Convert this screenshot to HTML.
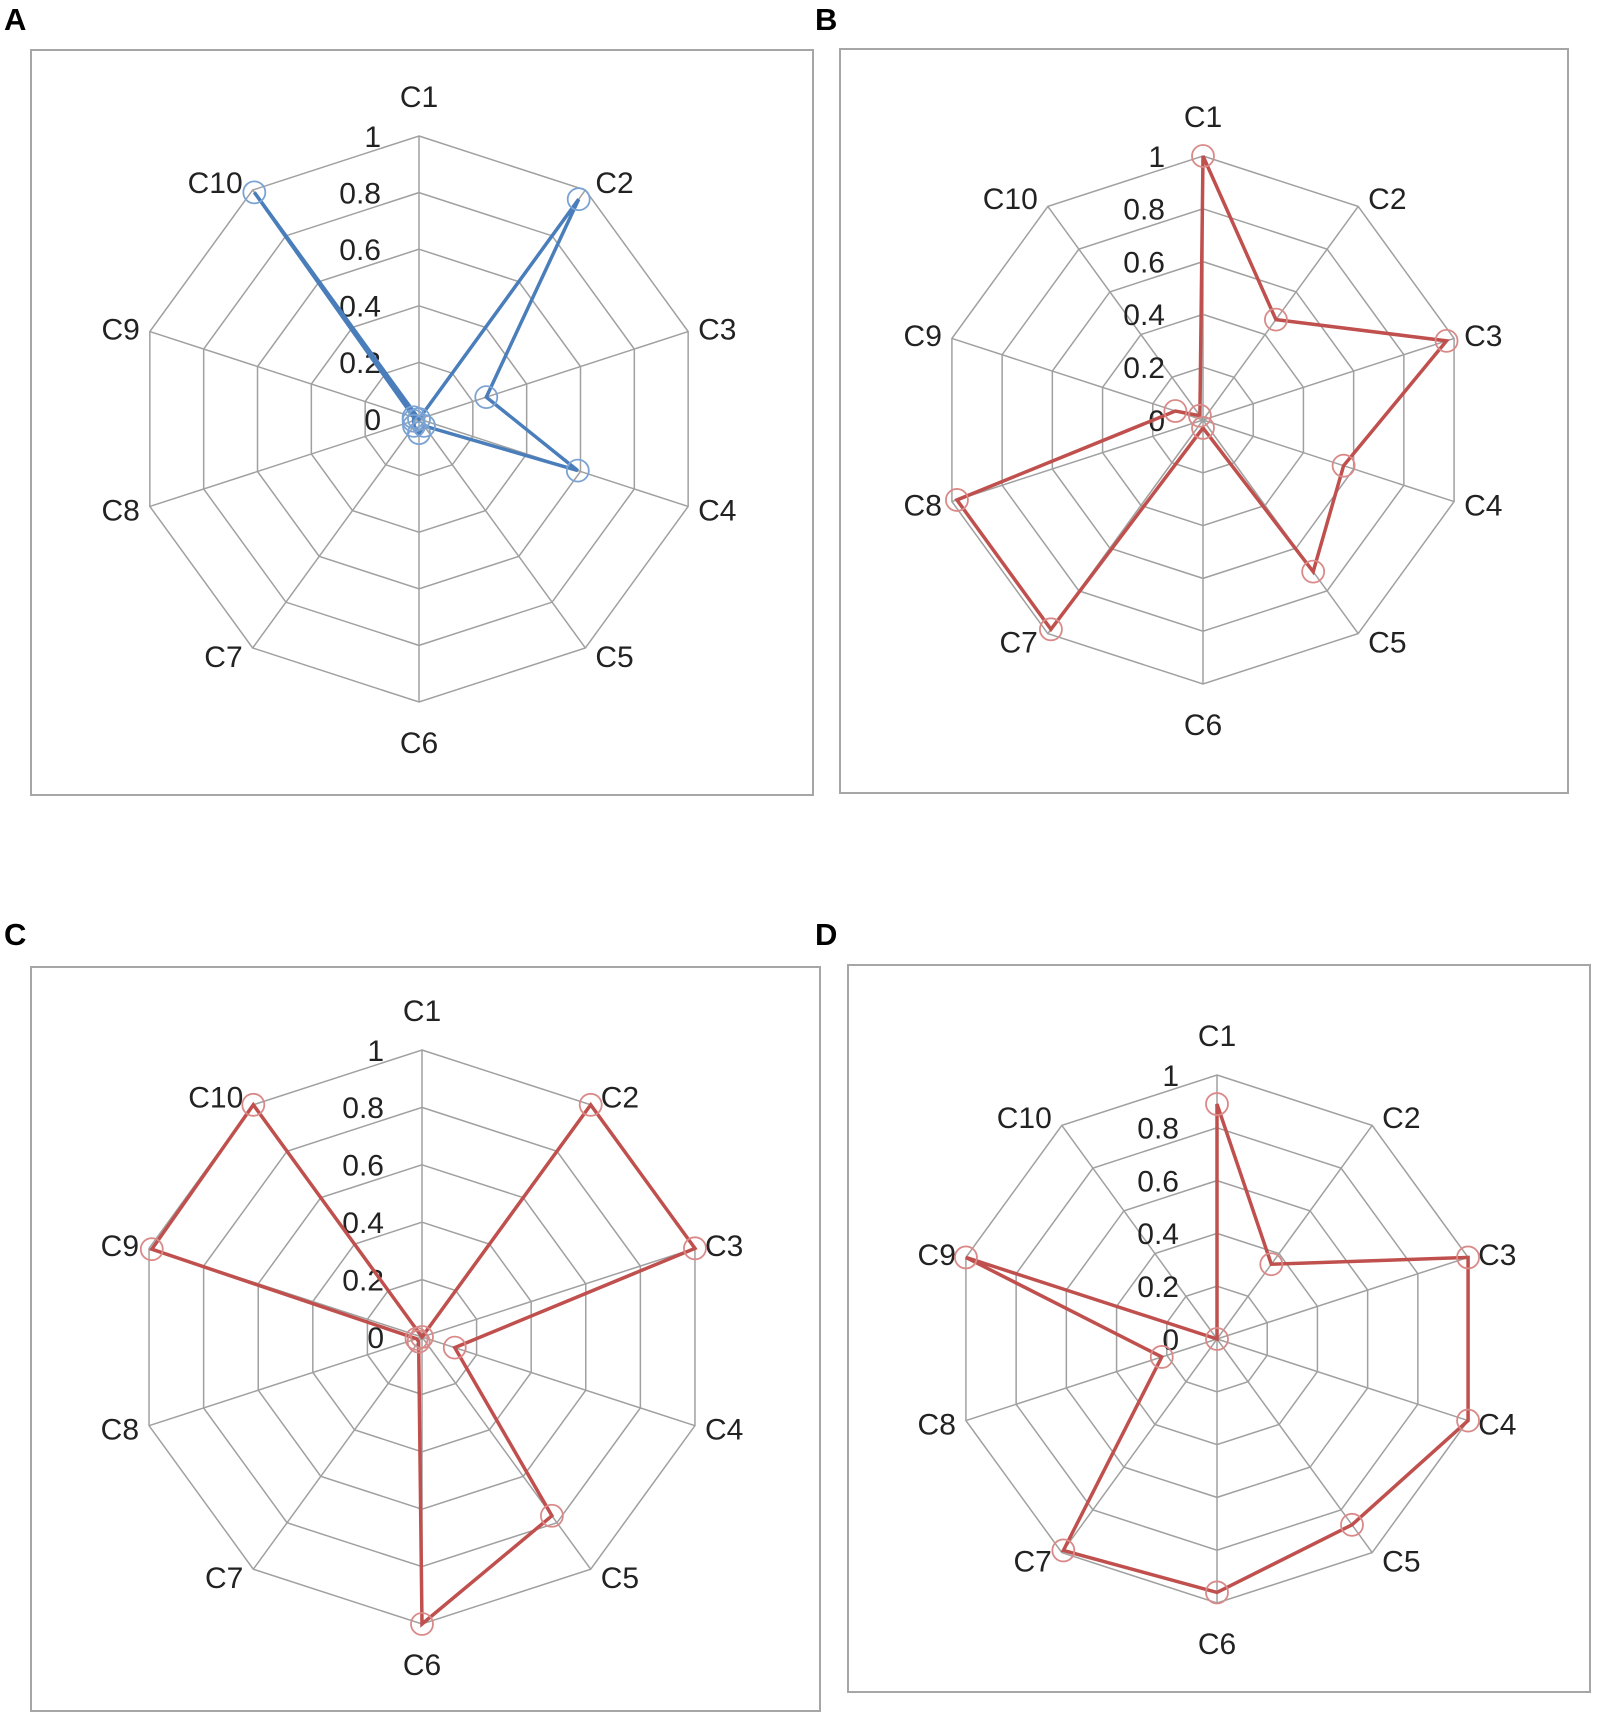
<!DOCTYPE html>
<html><head><meta charset="utf-8"><style>
body{margin:0;background:#fff}
svg{display:block}
</style></head><body>
<svg id="chart" width="1600" height="1721" viewBox="0 0 1600 1721" xmlns="http://www.w3.org/2000/svg"></svg>
<script>
const categories = ["C1","C2","C3","C4","C5","C6","C7","C8","C9","C10"];
const tickLabels = ["0","0.2","0.4","0.6","0.8","1"];
const tickValues = [0,0.2,0.4,0.6,0.8,1];
const seriesA = [0,0.96,0.25,0.59,0.03,0.05,0.03,0.02,0.02,0.99];
const seriesB = [1.0,0.47,0.97,0.56,0.71,0.03,0.98,0.98,0.11,0.02];
const seriesC = [0,1.0,1.0,0.12,0.77,1.0,0.02,0.02,0.99,1.0];
const seriesD = [0.89,0.35,1.0,1.0,0.87,0.96,0.99,0.22,1.0,0];

const NS="http://www.w3.org/2000/svg";
const svg=document.getElementById('chart');
function mk(tag,attrs,parent){const e=document.createElementNS(NS,tag);for(const k in attrs)e.setAttribute(k,attrs[k]);(parent||svg).appendChild(e);return e;}

const panels=[
 {letter:"A",lx:4,ly:30,fx:31,fy:50,fw:782,fh:745,cx:419,cy:419,R:283,data:seriesA,line:"#4a7ebb",mk:"#7aa3d4"},
 {letter:"B",lx:815,ly:30,fx:840,fy:49,fw:728,fh:744,cx:1203,cy:420,R:264,data:seriesB,line:"#c0504d",mk:"#d98a88"},
 {letter:"C",lx:4,ly:945,fx:31,fy:967,fw:789,fh:744,cx:422,cy:1337,R:287,data:seriesC,line:"#c0504d",mk:"#d98a88"},
 {letter:"D",lx:815,ly:945,fx:848,fy:965,fw:742,fh:727,cx:1217,cy:1339,R:264,data:seriesD,line:"#c0504d",mk:"#d98a88"}
];
const FS=30;
panels.forEach((p,pi)=>{
  const g=mk('g',{});
  
  
  const L=mk('text',{x:p.lx,y:p.ly,'font-family':'Liberation Sans, sans-serif','font-size':31,'font-weight':'bold',fill:'#000'},g);
  L.textContent=p.letter;
  
  
  const fr=mk('rect',{x:p.fx,y:p.fy,width:p.fw,height:p.fh,fill:'none',stroke:'#a6a6a6','stroke-width':2},g);
  
  
  const n=categories.length;
  const ang=i=>-Math.PI/2+i*2*Math.PI/n;
  const pt=(i,v)=>[p.cx+p.R*v*Math.cos(ang(i)),p.cy+p.R*v*Math.sin(ang(i))];
  tickValues.forEach((t,ti)=>{
    if(t===0)return;
    const pts=categories.map((c,i)=>pt(i,t).join(',')).join(' ');
    const ring=mk('polygon',{points:pts,fill:'none',stroke:'#a0a0a0','stroke-width':1.5},g);
    
    
  });
  categories.forEach((c,i)=>{
    const [x,y]=pt(i,1);
    const s=mk('line',{x1:p.cx,y1:p.cy,x2:x,y2:y,stroke:'#a0a0a0','stroke-width':1.5},g);
    
    
  });
  categories.forEach((c,i)=>{
    const [vx,vy]=pt(i,1);
    const a=ang(i);
    const sx=Math.cos(a), sy=Math.sin(a);
    let x,y,anchor;
    if(Math.abs(sx)<0.01){ x=vx; y=vy+sy*40; anchor='middle'; }
    else { x=vx+(sx>0?10:-10); y=vy+sy*10; anchor=sx>0?'start':'end'; }
    const t=mk('text',{x:x,y:y+FS*0.36,'text-anchor':anchor,'font-family':'Liberation Sans, sans-serif','font-size':FS,fill:'#222'},g);
    t.textContent=c;
    
    
  });
  tickValues.forEach((t,ti)=>{
    const y=p.cy-p.R*t;
    const e=mk('text',{x:p.cx-38,y:y+FS*0.36,'text-anchor':'end','font-family':'Liberation Sans, sans-serif','font-size':FS,fill:'#222'},g);
    e.textContent=tickLabels[ti];
    
    
  });
  const pts=p.data.map((v,i)=>pt(i,v).join(',')).join(' ');
  const poly=mk('polygon',{points:pts,fill:'none',stroke:p.line,'stroke-width':3.5,'stroke-linejoin':'miter'},g);
  
  
  p.data.forEach((v,i)=>{
    const [x,y]=pt(i,v);
    const c=mk('circle',{cx:x,cy:y,r:11,fill:'none',stroke:p.mk,'stroke-width':1.8},g);
    
    
  });
});
</script>
</body></html>
